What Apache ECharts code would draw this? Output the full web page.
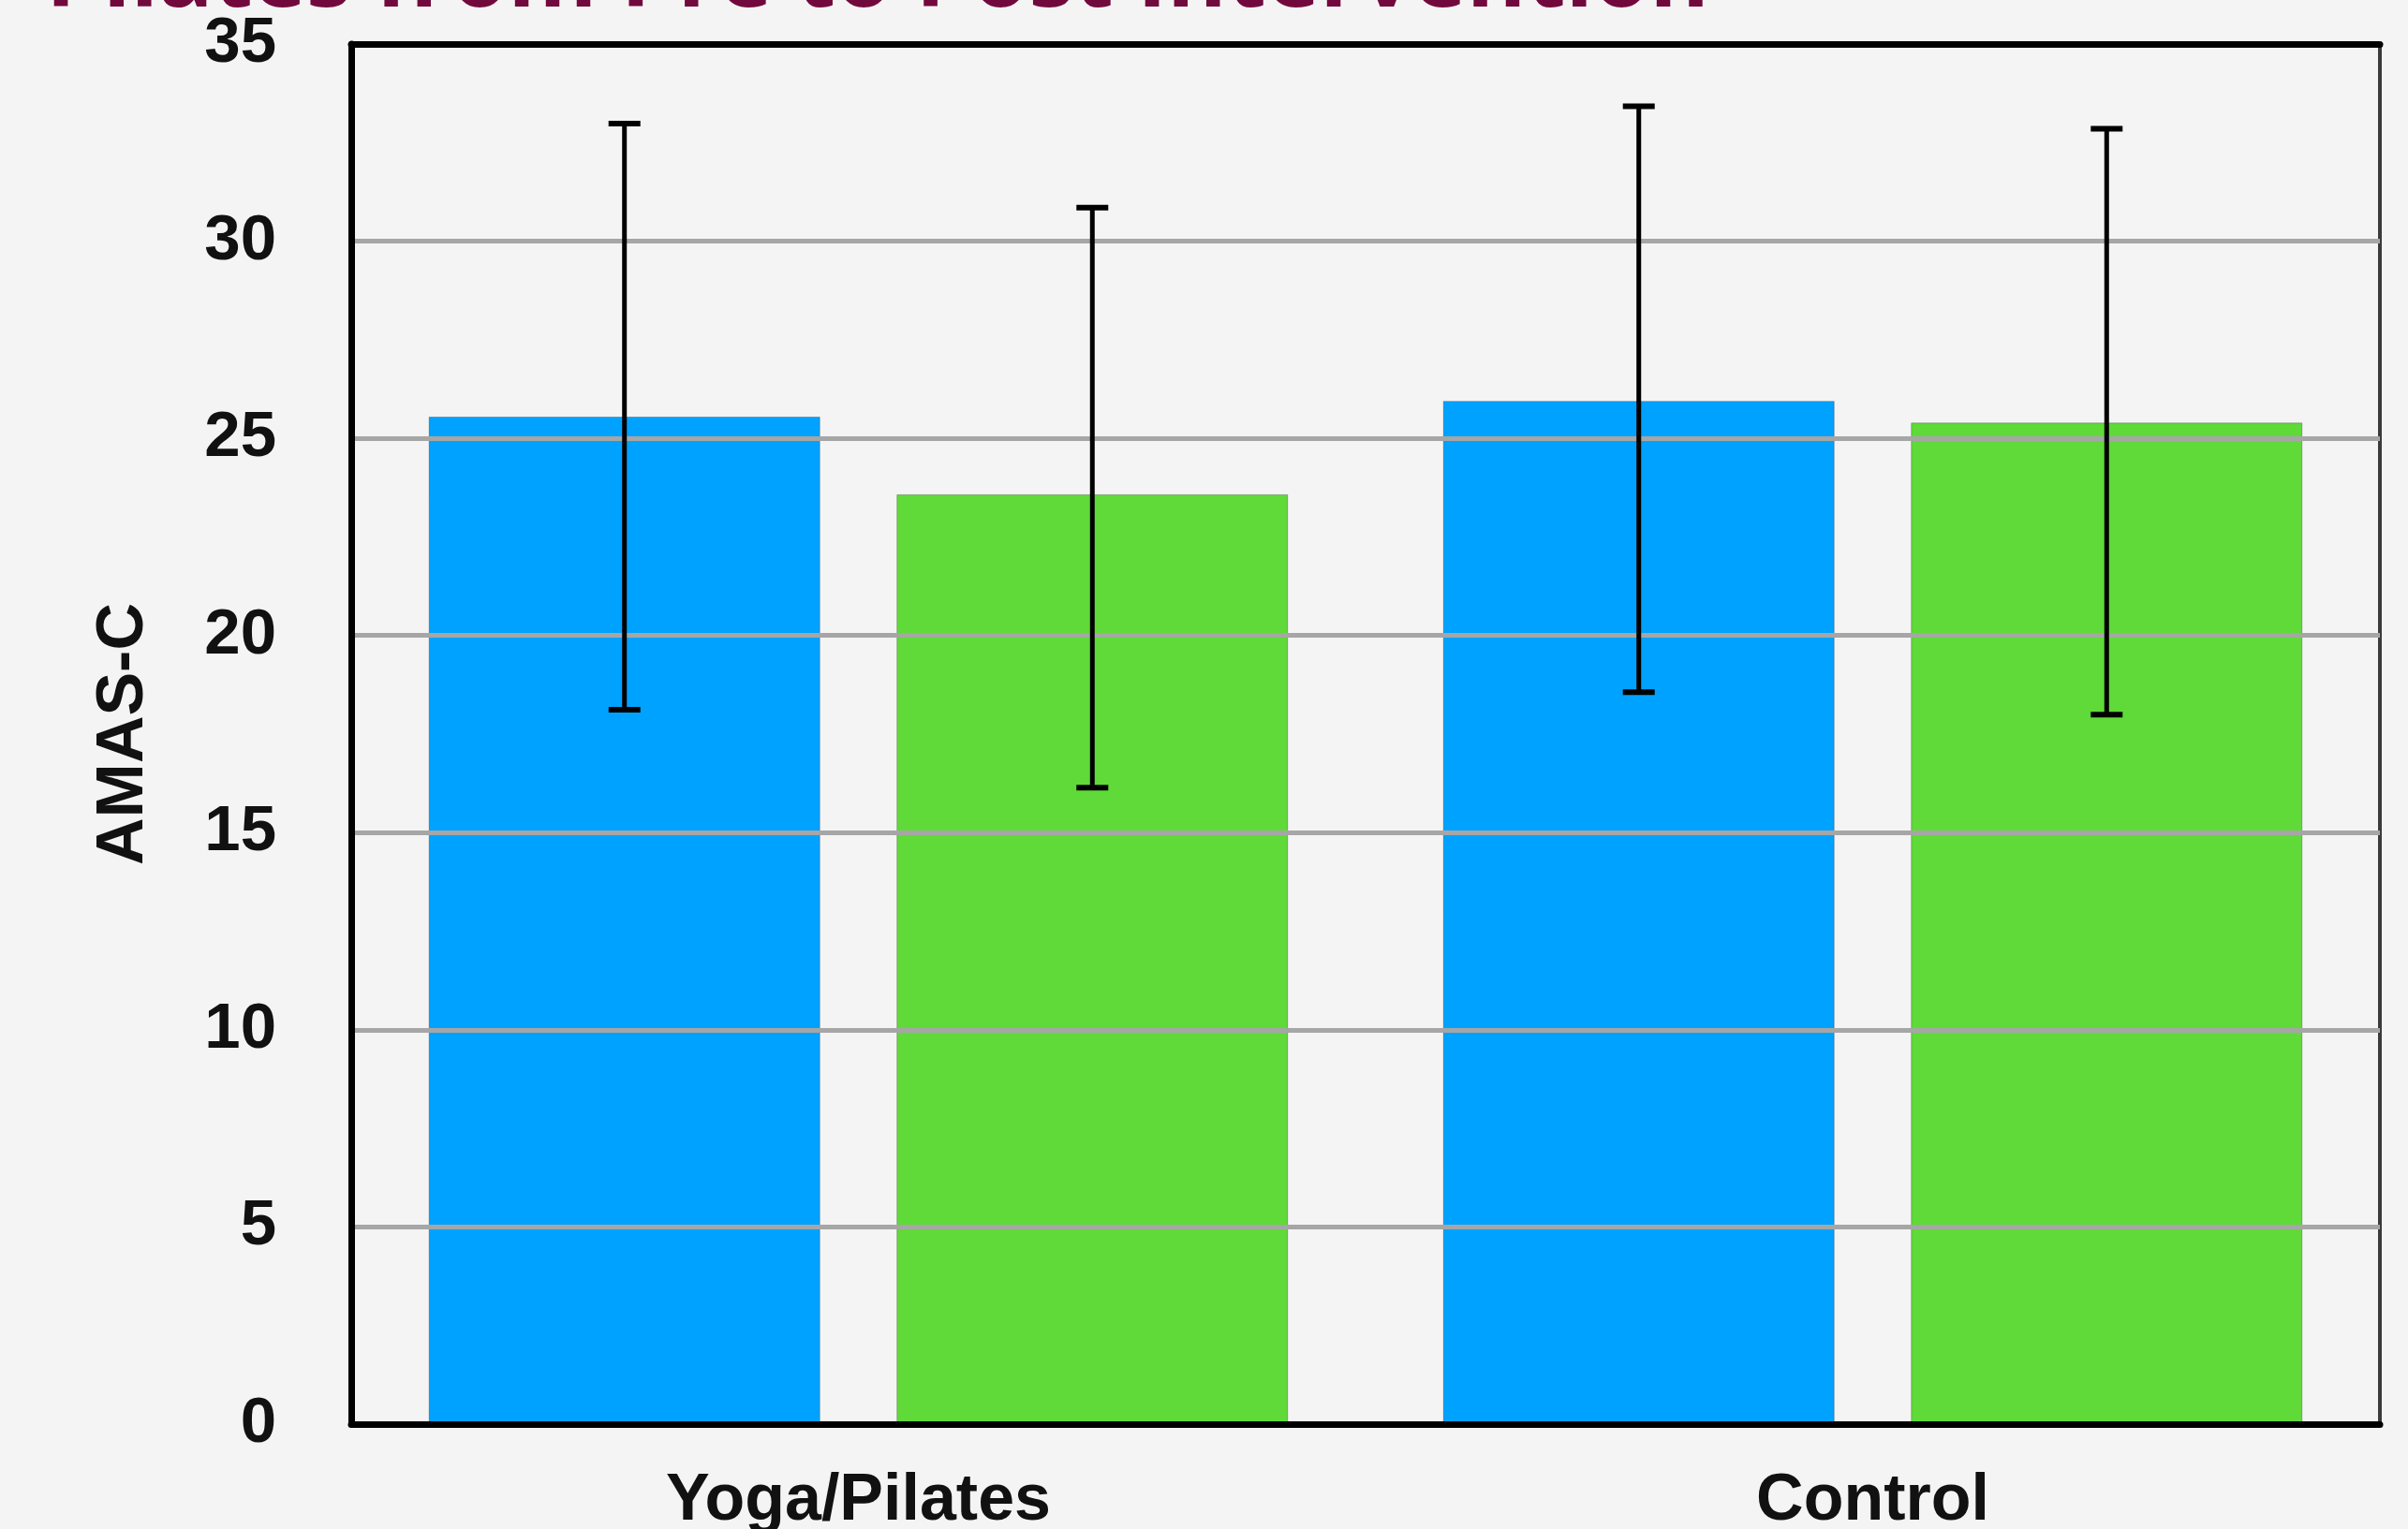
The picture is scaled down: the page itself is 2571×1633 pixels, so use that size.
<!DOCTYPE html>
<html>
<head>
<meta charset="utf-8">
<title>AMAS-C Pre / Post</title>
<script src="https://cdn.jsdelivr.net/npm/echarts@6/dist/echarts.min.js"></script>
<style>
  html, body { margin: 0; padding: 0; background: #f4f4f4; }
  #chart { width: 2571px; height: 1633px; }
</style>
</head>
<body>
<div id="chart"></div>
<script>
// Groups on the x axis
const categories = ['Yoga/Pilates', 'Control'];

// Mean AMAS-C scores
const preMeans  = [25.55, 25.95];
const postMeans = [23.58, 25.40];

// Error bar ends (lower, upper)
const preLow   = [18.12, 18.56];
const preHigh  = [32.98, 33.42];
const postLow  = [16.14, 17.99];
const postHigh = [30.85, 32.85];

// Y axis ticks
const yTicks = [0, 5, 10, 15, 20, 25, 30, 35];

const titleText = 'Pilates from Pre to Post Intervention';
const yName = 'AMAS-C';

// Bar geometry as fractions of the category band
const BAR_W = 0.386;
const BAR_GAP = 0.195;

const FONT = '"Liberation Sans", Arial, Helvetica, sans-serif';

function errorSeries(name, low, high, side) {
  const data = low.map((l, i) => [i, l, high[i]]);
  return {
    name: name,
    type: 'custom',
    silent: true,
    z: 10,
    data: data,
    encode: { x: 0, y: [1, 2] },
    renderItem: function (params, api) {
      const idx = api.value(0);
      const lo = api.coord([idx, api.value(1)]);
      const hi = api.coord([idx, api.value(2)]);
      const band = api.size([1, 0])[0];
      const off = side * (BAR_W / 2 + BAR_W * BAR_GAP / 2) * band;
      const x = lo[0] + off;
      const cap = 17;
      const capStyle = { stroke: '#000', lineWidth: 6 };
      return {
        type: 'group',
        children: [
          { type: 'line', shape: { x1: x, y1: lo[1], x2: x, y2: hi[1] }, style: { stroke: '#000', lineWidth: 5 } },
          { type: 'line', shape: { x1: x - cap, y1: hi[1], x2: x + cap, y2: hi[1] }, style: capStyle },
          { type: 'line', shape: { x1: x - cap, y1: lo[1], x2: x + cap, y2: lo[1] }, style: capStyle }
        ]
      };
    }
  };
}

const chart = echarts.init(document.getElementById('chart'), null, { renderer: 'canvas' });

chart.setOption({
  backgroundColor: '#f4f4f4',
  animation: false,
  title: {
    text: titleText,
    left: 49,
    top: -69,
    padding: 0,
    textStyle: {
      fontFamily: '"Open Sans", sans-serif',
      fontWeight: 'bold',
      fontSize: 97,
      color: '#72093c'
    }
  },
  grid: {
    left: 375,
    right: 30,
    top: 47,
    bottom: 112,
    containLabel: false,
    outerBoundsMode: 'none',
    show: true,
    backgroundColor: '#f4f4f4',
    borderColor: '#3a3a3a',
    borderWidth: 4
  },
  xAxis: [
    {
      type: 'category',
      data: categories,
      position: 'bottom',
      z: 5,
      axisLine: { show: true, lineStyle: { color: '#000', width: 7 } },
      axisTick: { show: false },
      axisLabel: {
        margin: 48,
        fontFamily: FONT,
        fontWeight: 'bold',
        fontSize: 70,
        color: '#111'
      }
    },
    {
      type: 'category',
      data: categories,
      position: 'top',
      z: 5,
      axisLine: { show: true, lineStyle: { color: '#000', width: 7 } },
      axisTick: { show: false },
      axisLabel: { show: false }
    }
  ],
  yAxis: {
    type: 'value',
    min: yTicks[0],
    max: yTicks[yTicks.length - 1],
    interval: yTicks[1] - yTicks[0],
    z: 5,
    name: yName,
    nameLocation: 'middle',
    nameRotate: 90,
    nameGap: 207,
    nameTextStyle: {
      fontFamily: FONT,
      fontWeight: 'bold',
      fontSize: 70,
      color: '#111'
    },
    axisLine: { show: true, lineStyle: { color: '#000', width: 7 } },
    axisTick: { show: false },
    axisLabel: {
      margin: 80,
      fontFamily: FONT,
      fontWeight: 'bold',
      fontSize: 69,
      color: '#111',
      padding: [14, 0, 0, 0]
    },
    splitLine: { show: true, lineStyle: { color: '#a6a6a6', width: 5 } }
  },
  series: [
    {
      name: 'Pre',
      type: 'bar',
      data: preMeans,
      barWidth: (BAR_W * 100) + '%',
      barGap: (BAR_GAP * 100) + '%',
      itemStyle: { color: '#00a2ff', borderColor: 'rgba(0,0,0,0.25)', borderWidth: 1 }
    },
    {
      name: 'Post',
      type: 'bar',
      data: postMeans,
      barWidth: (BAR_W * 100) + '%',
      barGap: (BAR_GAP * 100) + '%',
      itemStyle: { color: '#5fda38', borderColor: 'rgba(0,0,0,0.25)', borderWidth: 1 }
    },
    errorSeries('Pre error', preLow, preHigh, -1),
    errorSeries('Post error', postLow, postHigh, 1)
  ]
});
</script>
</body>
</html>
